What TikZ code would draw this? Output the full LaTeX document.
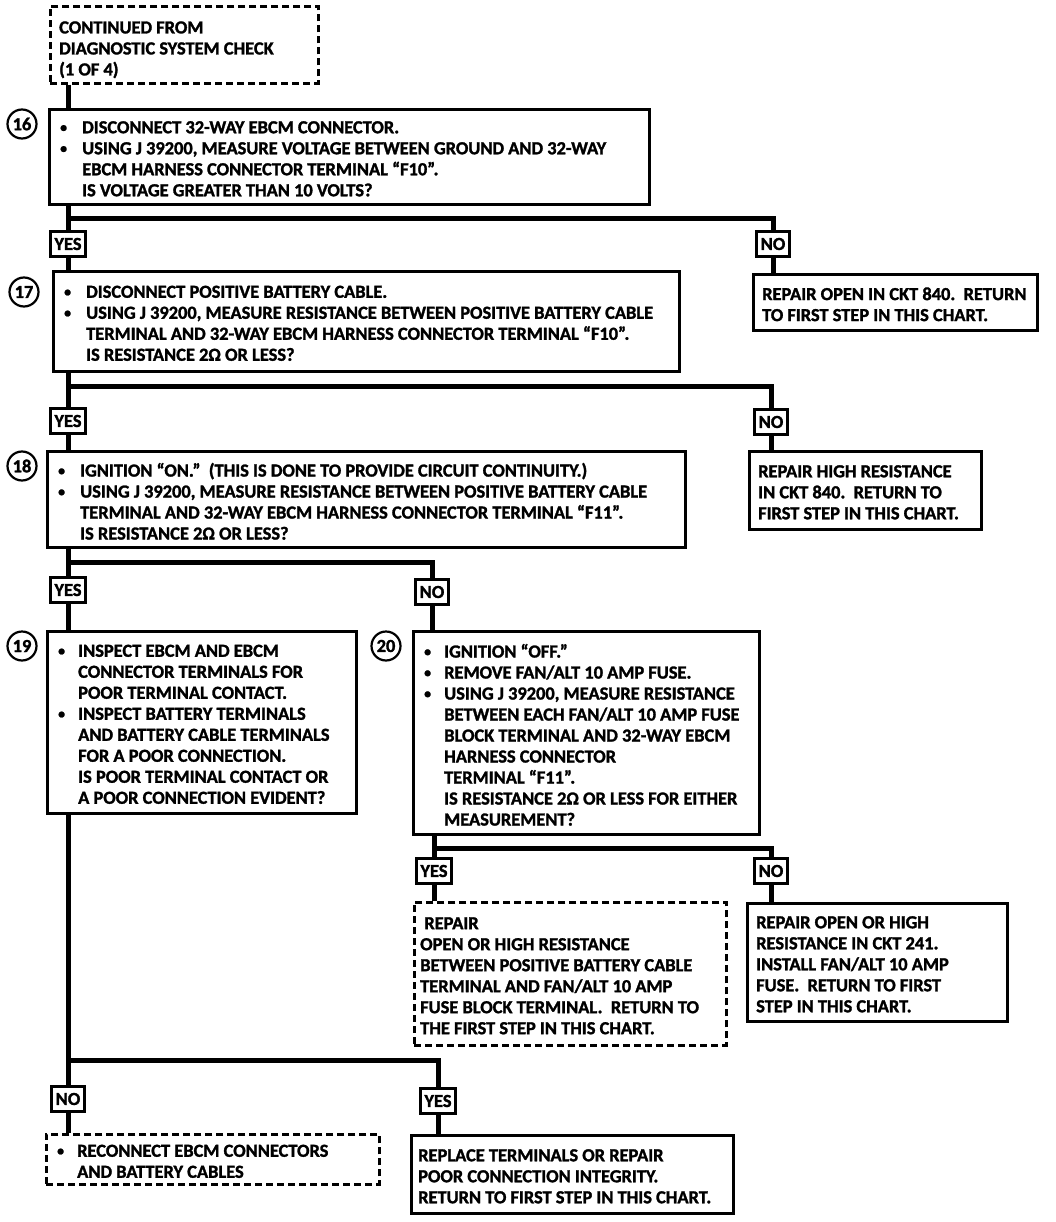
\documentclass[tikz,border=0pt]{standalone}
\usepackage{fontspec}
\setmainfont{Carlito}[BoldFeatures={FakeBold=1.5}]

\newcommand{\chartfont}{\fontsize{18.4}{21}\selectfont\bfseries}
\newcommand{\dotmark}{\raisebox{0.15ex}{\scalebox{0.75}{\textbullet}}}
\newcommand{\bul}{\makebox[22pt][l]{\dotmark}}
\newcommand{\ind}{\hspace*{22pt}}
\newcommand{\sbul}{\makebox[20pt][l]{\dotmark}}
\newcommand{\sind}{\hspace*{20pt}}

\tikzset{
  stepbox/.style={draw, line width=2.6pt, anchor=north west, inner sep=0pt},
  endbox/.style={stepbox, dash pattern=on 7pt off 4pt},
  boxtext/.style={anchor=west, align=left, inner sep=0pt, yshift=-2pt, font=\chartfont},
  answer/.style={draw, line width=2.6pt, font=\chartfont, minimum height=25pt,
    inner xsep=4pt, inner ysep=0pt},
  stepnum/.style={circle, draw, line width=2.2pt, minimum size=29pt, inner sep=0pt,
    font=\chartfont},
  flow/.style={line width=5pt}
}

\begin{document}
\begin{tikzpicture}[x=1pt,y=-1pt]
    \useasboundingbox (0,0) rectangle (1056,1222);

    % Start of the chart
    \node[endbox, minimum width=268pt, minimum height=77pt] (start) at (49,5) {};
    \node[boxtext, yshift=-3pt] (txtstart) at ([xshift=10pt]start.west)
        {CONTINUED FROM\\DIAGNOSTIC SYSTEM CHECK\\(1 OF 4)};

    % Step 16
    \node[stepnum] (n16) at (22,124) {16};
    \node[stepbox, minimum width=600pt, minimum height=95pt] (box16) at (48,108) {};
    \node[boxtext] (txt16) at ([xshift=12pt]box16.west)
        {\bul DISCONNECT 32-WAY EBCM CONNECTOR.\\
         \bul USING J 39200, MEASURE VOLTAGE BETWEEN GROUND AND 32-WAY\\
         \ind EBCM HARNESS CONNECTOR TERMINAL “F10”.\\
         \ind IS VOLTAGE GREATER THAN 10 VOLTS?};
    \node[answer] (yes16) at (68,244) {YES};
    \node[answer] (no16) at (773,244) {NO};
    \node[stepbox, minimum width=284pt, minimum height=56pt] (rep16) at (752,273) {};
    \node[boxtext] (txtrep16) at ([xshift=10pt]rep16.west)
        {REPAIR OPEN IN CKT 840.\ \ RETURN\\TO FIRST STEP IN THIS CHART.};

    % Step 17
    \node[stepnum] (n17) at (24,292) {17};
    \node[stepbox, minimum width=626pt, minimum height=100pt] (box17) at (52,270) {};
    \node[boxtext] (txt17) at ([xshift=12pt]box17.west)
        {\bul DISCONNECT POSITIVE BATTERY CABLE.\\
         \bul USING J 39200, MEASURE RESISTANCE BETWEEN POSITIVE BATTERY CABLE\\
         \ind TERMINAL AND 32-WAY EBCM HARNESS CONNECTOR TERMINAL “F10”.\\
         \ind IS RESISTANCE 2Ω OR LESS?};
    \node[answer] (yes17) at (68,421) {YES};
    \node[answer] (no17) at (771,422) {NO};
    \node[stepbox, minimum width=232pt, minimum height=78pt] (rep17) at (748,450) {};
    \node[boxtext] (txtrep17) at ([xshift=10pt]rep17.west)
        {REPAIR HIGH RESISTANCE\\IN CKT 840.\ \ RETURN TO\\FIRST STEP IN THIS CHART.};

    % Step 18
    \node[stepnum] (n18) at (22,466) {18};
    \node[stepbox, minimum width=638pt, minimum height=96pt] (box18) at (46,450) {};
    \node[boxtext] (txt18) at ([xshift=12pt]box18.west)
        {\bul IGNITION “ON.”\ \ (THIS IS DONE TO PROVIDE CIRCUIT CONTINUITY.)\\
         \bul USING J 39200, MEASURE RESISTANCE BETWEEN POSITIVE BATTERY CABLE\\
         \ind TERMINAL AND 32-WAY EBCM HARNESS CONNECTOR TERMINAL “F11”.\\
         \ind IS RESISTANCE 2Ω OR LESS?};
    \node[answer] (yes18) at (68,590) {YES};
    \node[answer] (no18) at (432,592) {NO};

    % Step 19
    \node[stepnum] (n19) at (22,646) {19};
    \node[stepbox, minimum width=309pt, minimum height=182pt] (box19) at (46,630) {};
    \node[boxtext] (txt19) at ([xshift=12pt]box19.west)
        {\sbul INSPECT EBCM AND EBCM\\
         \sind CONNECTOR TERMINALS FOR\\
         \sind POOR TERMINAL CONTACT.\\
         \sbul INSPECT BATTERY TERMINALS\\
         \sind AND BATTERY CABLE TERMINALS\\
         \sind FOR A POOR CONNECTION.\\
         \sind IS POOR TERMINAL CONTACT OR\\
         \sind A POOR CONNECTION EVIDENT?};

    % Step 20
    \node[stepnum] (n20) at (386,646) {20};
    \node[stepbox, minimum width=346pt, minimum height=203pt] (box20) at (412,630) {};
    \node[boxtext] (txt20) at ([xshift=12pt]box20.west)
        {\sbul IGNITION “OFF.”\\
         \sbul REMOVE FAN/ALT 10 AMP FUSE.\\
         \sbul USING J 39200, MEASURE RESISTANCE\\
         \sind BETWEEN EACH FAN/ALT 10 AMP FUSE\\
         \sind BLOCK TERMINAL AND 32-WAY EBCM\\
         \sind HARNESS CONNECTOR\\
         \sind TERMINAL “F11”.\\
         \sind IS RESISTANCE 2Ω OR LESS FOR EITHER\\
         \sind MEASUREMENT?};
    \node[answer] (yes20) at (434,871) {YES};
    \node[answer] (no20) at (771,871) {NO};
    \node[endbox, minimum width=312pt, minimum height=143pt] (rep20y) at (413,901) {};
    \node[boxtext] (txtrep20y) at ([xshift=7pt]rep20y.west)
        {\ REPAIR\\OPEN OR HIGH RESISTANCE\\BETWEEN POSITIVE BATTERY CABLE\\
         TERMINAL AND FAN/ALT 10 AMP\\FUSE BLOCK TERMINAL.\ \ RETURN TO\\
         THE FIRST STEP IN THIS CHART.};
    \node[stepbox, minimum width=260pt, minimum height=118pt] (rep20n) at (746,902) {};
    \node[boxtext] (txtrep20n) at ([xshift=10pt]rep20n.west)
        {REPAIR OPEN OR HIGH\\RESISTANCE IN CKT 241.\\INSTALL FAN/ALT 10 AMP\\
         FUSE.\ \ RETURN TO FIRST\\STEP IN THIS CHART.};

    % Answers of step 19
    \node[answer] (no19) at (68,1099) {NO};
    \node[answer] (yes19) at (438,1101) {YES};
    \node[endbox, minimum width=333pt, minimum height=50pt] (rep19n) at (45,1133) {};
    \node[boxtext] (txtrep19n) at ([xshift=12pt]rep19n.west)
        {\sbul RECONNECT EBCM CONNECTORS\\ \sind AND BATTERY CABLES};
    \node[stepbox, minimum width=322pt, minimum height=78pt] (rep19y) at (410,1134) {};
    \node[boxtext] (txtrep19y) at ([xshift=8pt]rep19y.west)
        {REPLACE TERMINALS OR REPAIR\\POOR CONNECTION INTEGRITY.\\
         RETURN TO FIRST STEP IN THIS CHART.};

    % Fork levels
    \coordinate (fork16) at (0,219);
    \coordinate (fork17) at (0,386);
    \coordinate (fork18) at (0,562);
    \coordinate (fork20) at (0,848);
    \coordinate (fork19) at (0,1060);

    % Draw the flow lines
    \draw[flow] (start.south -| yes16) -- (box16.north -| yes16);
    \draw[flow] (box16.south -| yes16) -- (yes16.north);
    \draw[flow] (yes16 |- fork16) -| (no16.north);
    \draw[flow] (yes16.south) -- (box17.north -| yes16);
    \draw[flow] (no16.south) -- (rep16.north -| no16);

    \draw[flow] (box17.south -| yes17) -- (yes17.north);
    \draw[flow] (yes17 |- fork17) -| (no17.north);
    \draw[flow] (yes17.south) -- (box18.north -| yes17);
    \draw[flow] (no17.south) -- (rep17.north -| no17);

    \draw[flow] (box18.south -| yes18) -- (yes18.north);
    \draw[flow] (yes18 |- fork18) -| (no18.north);
    \draw[flow] (yes18.south) -- (box19.north -| yes18);
    \draw[flow] (no18.south) -- (box20.north -| no18);

    \draw[flow] (box20.south -| yes20) -- (yes20.north);
    \draw[flow] (yes20 |- fork20) -| (no20.north);
    \draw[flow] (yes20.south) -- (rep20y.north -| yes20);
    \draw[flow] (no20.south) -- (rep20n.north -| no20);

    \draw[flow] (box19.south -| no19) -- (no19.north);
    \draw[flow] (no19 |- fork19) -| (yes19.north);
    \draw[flow] (no19.south) -- (rep19n.north -| no19);
    \draw[flow] (yes19.south) -- (rep19y.north -| yes19);
\end{tikzpicture}
\end{document}
